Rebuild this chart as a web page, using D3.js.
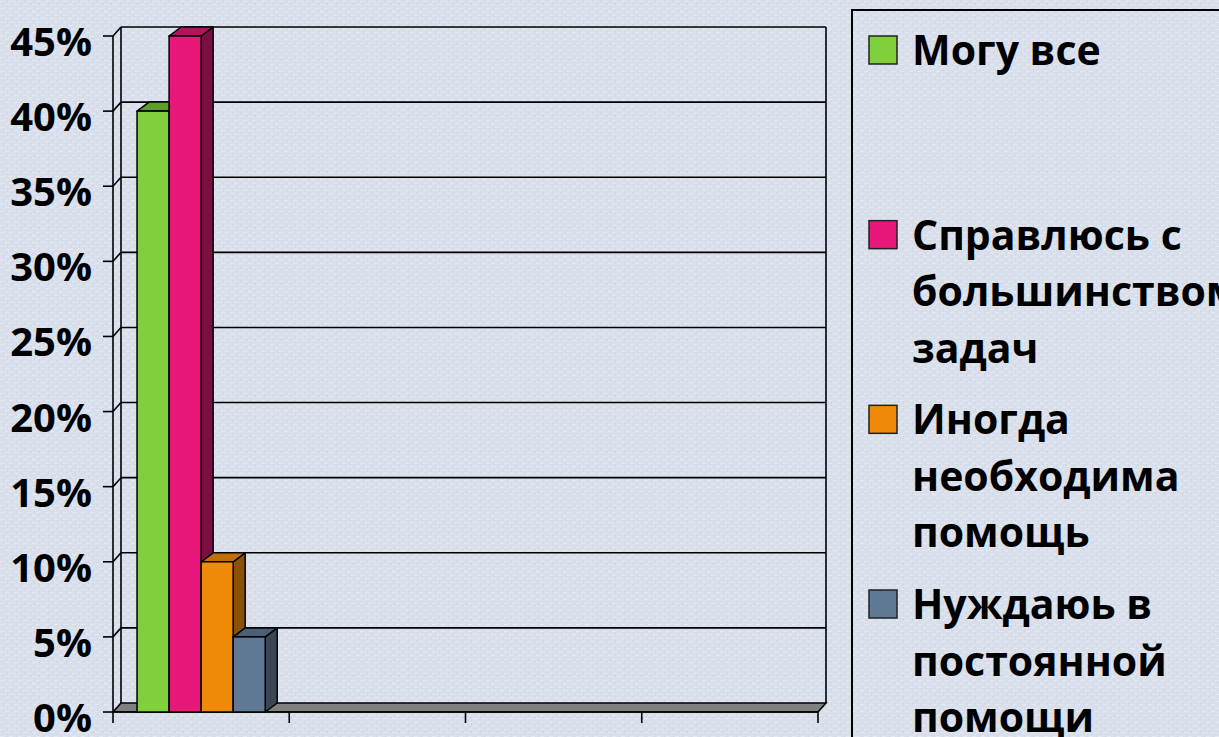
<!DOCTYPE html>
<html>
<head>
<meta charset="utf-8">
<script src="https://cdn.jsdelivr.net/npm/d3@7"></script>
<style>
  html, body { margin: 0; padding: 0; background: #d8dfeb; }
  svg { display: block; }
  text { font-family: "Open Sans", "Noto Sans", sans-serif; font-weight: 700; fill: #000; }
</style>
</head>
<body>
<svg id="chart" width="1219" height="737"></svg>
<script>
// ---- data ----
const categories = ["c1", "c2", "c3", "c4"];
const seriesNames = [
  ["Могу все"],
  ["Справлюсь с", "большинством", "задач"],
  ["Иногда", "необходима", "помощь"],
  ["Нуждаюь в", "постоянной", "помощи"]
];
const seriesValues = [
  [0.40, null, null, null],
  [0.45, null, null, null],
  [0.10, null, null, null],
  [0.05, null, null, null]
];
const yTicks = [0, 0.05, 0.10, 0.15, 0.20, 0.25, 0.30, 0.35, 0.40, 0.45];
const frontColors = ["#7fd03c", "#e8187a", "#ee8a06", "#5f7894"];
const topColors   = ["#5c9e2c", "#b3145e", "#c07006", "#4b6078"];
const sideColors  = ["#4d8a22", "#7a1042", "#8a5208", "#3a4656"];

// ---- layout ----
const svg = d3.select("#chart");
const W = 1219, H = 737;

// background texture
const defs = svg.append("defs");
const pat = defs.append("pattern").attr("id", "tex").attr("patternUnits", "userSpaceOnUse")
  .attr("width", 9).attr("height", 7);
pat.append("rect").attr("width", 9).attr("height", 7).attr("fill", "#d9e0ec");
pat.append("rect").attr("x", 0).attr("y", 1).attr("width", 4).attr("height", 1).attr("fill", "#e3e8f2");
pat.append("rect").attr("x", 5).attr("y", 4).attr("width", 4).attr("height", 1).attr("fill", "#e3e8f2");
pat.append("rect").attr("x", 3).attr("y", 2).attr("width", 1).attr("height", 3).attr("fill", "#d0d8e6");
pat.append("rect").attr("x", 7).attr("y", 0).attr("width", 1).attr("height", 3).attr("fill", "#d2d9e7");
svg.append("rect").attr("width", W).attr("height", H).attr("fill", "url(#tex)");

const y = d3.scaleLinear().domain([0, 0.45]).range([712, 36]);
const x = d3.scaleBand().domain(categories).range([113, 818]);
const wdx = 8, wdy = -9;     // wall depth offset
const bdx = 12, bdy = -9;    // bar depth offset
const bw = x.bandwidth() / (seriesValues.length + 1.5);

const g = svg.append("g");
const line = (x1, y1, x2, y2, w) => g.append("line")
  .attr("x1", x1).attr("y1", y1).attr("x2", x2).attr("y2", y2)
  .attr("stroke", "#000").attr("stroke-width", w || 1.6);

const x0 = x.range()[0], x1 = x.range()[1];

// floor
g.append("polygon")
  .attr("points", [[x0, y(0)], [x1, y(0)], [x1 + wdx, y(0) + wdy], [x0 + wdx, y(0) + wdy]].map(p => p.join(",")).join(" "))
  .attr("fill", "#808080").attr("stroke", "#000").attr("stroke-width", 1.6);

// gridlines on side + back wall
yTicks.forEach(t => {
  if (t === 0) return;
  line(x0, y(t), x0 + wdx, y(t) + wdy);
  line(x0 + wdx, y(t) + wdy, x1 + wdx, y(t) + wdy);
});
// back wall edges
line(x0 + wdx, y(0.45) + wdy, x0 + wdx, y(0) + wdy);
line(x1 + wdx, y(0.45) + wdy, x1 + wdx, y(0) + wdy);

// y axis
line(x0, y(0.45), x0, y(0));
yTicks.forEach(t => line(x0 - 10, y(t), x0, y(t)));
g.selectAll("text.ytick").data(yTicks).enter().append("text")
  .attr("class", "ytick")
  .attr("x", 92).attr("y", d => y(d) + 20)
  .attr("text-anchor", "end")
  .attr("font-size", 40)
  .text(d3.format(".0%"));

// x axis ticks
line(x0, y(0), x1, y(0));
const bounds = categories.map(c => x(c)).concat([x1]);
bounds.forEach(b => line(b, y(0), b, y(0) + 11));

// bars
seriesValues.forEach((vals, i) => {
  vals.forEach((v, ci) => {
    if (v == null) return;
    const bx = x(categories[ci]) + bw * 0.75 + i * bw;
    const by = y(v), b0 = y(0);
    const pts = a => a.map(p => p.join(",")).join(" ");
    // side
    g.append("polygon").attr("points", pts([[bx + bw, by], [bx + bw + bdx, by + bdy], [bx + bw + bdx, b0 + bdy], [bx + bw, b0]]))
      .attr("fill", sideColors[i]).attr("stroke", "#000").attr("stroke-width", 1.5).attr("stroke-linejoin", "round");
    // top
    g.append("polygon").attr("points", pts([[bx, by], [bx + bw, by], [bx + bw + bdx, by + bdy], [bx + bdx, by + bdy]]))
      .attr("fill", topColors[i]).attr("stroke", "#000").attr("stroke-width", 1.5).attr("stroke-linejoin", "round");
    // front
    g.append("rect").attr("x", bx).attr("y", by).attr("width", bw).attr("height", b0 - by)
      .attr("fill", frontColors[i]).attr("stroke", "#000").attr("stroke-width", 1.5);
  });
});

// legend
const lg = svg.append("g");
lg.append("rect").attr("x", 852).attr("y", 10).attr("width", 420).attr("height", 800)
  .attr("fill", "none").attr("stroke", "#000").attr("stroke-width", 2);
const entryStep = (619 - 65) / 3, lineStep = 56.5;
seriesNames.forEach((lines, i) => {
  const base = 65 + i * entryStep;
  lg.append("rect").attr("x", 869).attr("y", base - 29).attr("width", 28).attr("height", 28)
    .attr("fill", frontColors[i]).attr("stroke", "#222").attr("stroke-width", 1.5);
  lines.forEach((s, k) => {
    lg.append("text").attr("x", 912).attr("y", base + k * lineStep)
      .attr("font-size", 41).text(s);
  });
});
</script>
</body>
</html>
